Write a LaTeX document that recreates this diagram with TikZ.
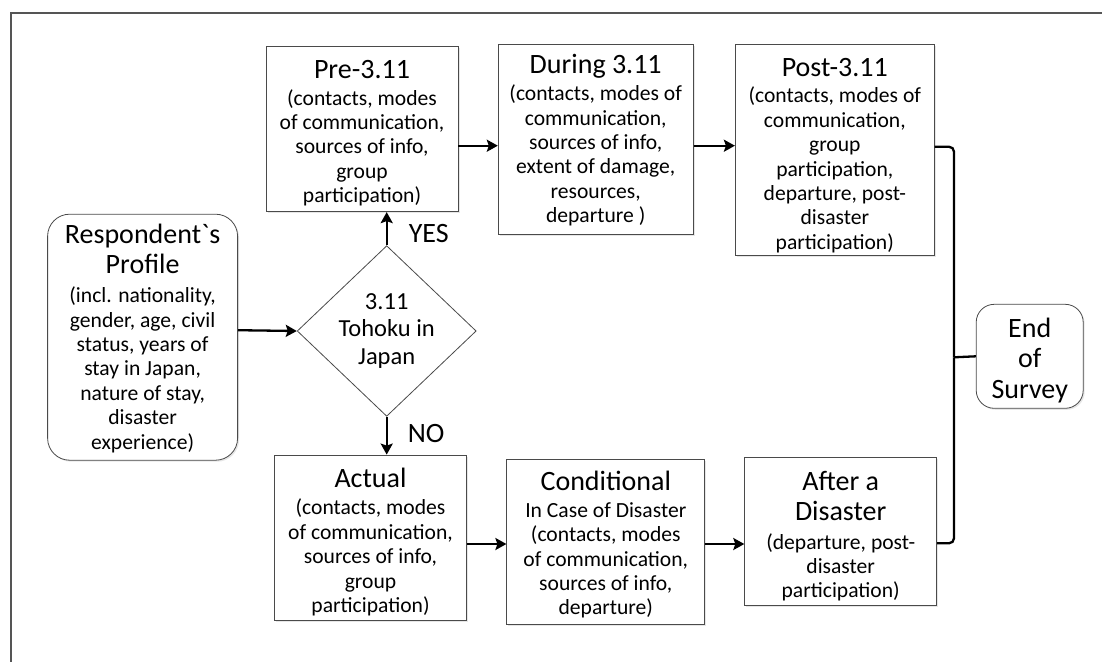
\documentclass[tikz,border=0pt]{standalone}
\usepackage{fontspec}
\setmainfont{Carlito}
\usetikzlibrary{arrows.meta}
\usetikzlibrary{shapes.geometric}
\usetikzlibrary{shadows}

\definecolor{boxline}{HTML}{4A4A4A}
\definecolor{frameline}{HTML}{555555}
\newcommand{\ttl}[1]{{\fontsize{28}{30}\selectfont #1}}
\newcommand{\up}[1]{\rule{0pt}{#1pt}}

\begin{document}
\begin{tikzpicture}
[x=1pt,y=-1pt,%
  every node/.style={align=center,inner sep=2pt,font=\fontsize{21.6}{24.4}\selectfont},%
  stage/.style={shape=rectangle,draw=boxline,line width=0.8pt,fill=white,
    drop shadow={shadow xshift=1.5pt,shadow yshift=-1.5pt,opacity=0.2}},%
  roundbox/.style={stage,rounded corners=22pt},%
  decide/.style={shape=diamond,draw=boxline,line width=0.8pt,fill=white,
    font=\fontsize{24.5}{27.3}\selectfont},%
  flow/.style={line width=2.3pt,-{Stealth[length=11pt,width=12pt,inset=2pt]}},%
  bracket/.style={line width=2.3pt,rounded corners=5pt},%
  answer/.style={font=\fontsize{28}{30}\selectfont,inner sep=0pt,anchor=west}]
\useasboundingbox (0,0) rectangle (1102,662);
\draw[frameline,line width=1.2pt] (1102,13) -- (11,13) -- (11,662);
%%
\node[roundbox,minimum width=190pt,minimum height=246pt] (profile) at (142.6,337.2)
  {\ttl{\up{22}Respondent\textasciigrave s}\\[5.6pt]\ttl{Profile}\\[4.6pt]
   (incl. nationality,\\gender, age, civil\\status, years of\\stay in Japan,\\
   nature of stay,\\disaster\\experience)};
\node[decide,minimum width=179pt,minimum height=126pt,inner sep=0pt] (tohoku) at (386.7,331)
  {3.11\\Tohoku in\\Japan};
%%
\node[stage,minimum width=192pt,minimum height=165pt] (pre) at (362,129.2)
  {\ttl{\up{26}Pre-3.11}\\[2.6pt](contacts, modes\\of communication,\\sources of info,\\group\\participation)};
\node[stage,minimum width=195pt,minimum height=190pt] (during) at (595.7,139)
  {\ttl{\up{22}During 3.11}\\[2.6pt](contacts, modes of\\communication,\\sources of info,\\
   extent of damage,\\resources,\\departure )};
\node[stage,minimum width=199pt,minimum height=211pt] (post) at (834.8,149.5)
  {\ttl{\up{30}Post-3.11}\\[2.3pt](contacts, modes of\\communication,\\group\\participation,\\
   departure, post-\\disaster\\participation)};
%%
\node[stage,minimum width=192pt,minimum height=165pt] (actual) at (370.5,537.5)
  {\ttl{\up{28}Actual}\\[3.3pt](contacts, modes\\of communication,\\sources of info,\\group\\participation)};
\node[stage,minimum width=198pt,minimum height=165pt] (conditional) at (605.8,541.5)
  {\ttl{\up{26}Conditional}\\[2.2pt]In Case of Disaster\\
   (contacts, modes\\of communication,\\sources of info,\\departure)};
\node[stage,minimum width=192pt,minimum height=148pt] (after) at (840.7,531)
  {\ttl{\up{30}After a}\\[5.6pt]\ttl{Disaster}\\[3.9pt](departure, post-\\disaster\\participation)};
%%
\node[roundbox,rounded corners=18pt,minimum width=107pt,minimum height=104pt] (endsurvey) at (1029.7,356.3)
  {\ttl{\up{28}End}\\[5.6pt]\ttl{of}\\[6.6pt]\ttl{Survey}};
\coordinate (tip) at (954,357.3);
%%
\draw[flow] ([yshift=7pt]profile.east) -- (tohoku.west);
\draw[flow] (tohoku.north) -- (tohoku.north |- pre.south)
  node[answer,pos=0.36,right=21pt] {YES};
\draw[flow] (tohoku.south) -- (tohoku.south |- actual.north)
  node[answer,pos=0.43,right=20pt] {NO};
\draw[flow] ([yshift=-16.5pt]pre.east) -- ([yshift=-6.7pt]during.west);
\draw[flow] ([yshift=-6.7pt]during.east) -- ([yshift=3.8pt]post.west);
\draw[flow] ([yshift=-6.5pt]actual.east) -- ([yshift=-2.5pt]conditional.west);
\draw[flow] ([yshift=-2.5pt]conditional.east) -- ([yshift=-13pt]after.west);
\draw[bracket] ([yshift=2.8pt]post.east) -| (tip);
\draw[bracket] ([yshift=-12.3pt]after.east) -| (tip);
\draw[line width=2.3pt] (tip) -- (endsurvey.west);
\end{tikzpicture}
\end{document}
